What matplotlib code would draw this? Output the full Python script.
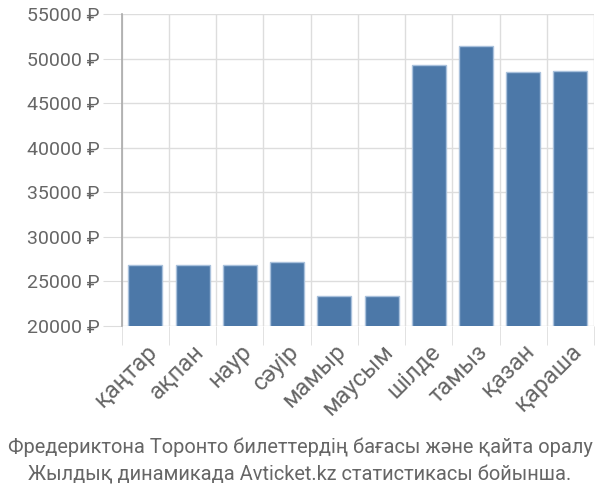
import numpy as np
import matplotlib
matplotlib.use("Agg")
import matplotlib.pyplot as plt
from matplotlib.ticker import FixedLocator

plt.rcParams['font.family'] = ['Roboto', 'DejaVu Sans']

months = ["қаңтар", "ақпан", "наур", "сәуір", "мамыр", "маусым",
          "шілде", "тамыз", "қазан", "қараша"]
prices = [26800, 26800, 26800, 27150, 23400, 23400,
          49250, 51400, 48450, 48550]
yticks = [20000, 25000, 30000, 35000, 40000, 45000, 50000, 55000]
caption_lines = ["Фредериктона Торонто билеттердің бағасы және қайта оралу",
                 "Жылдық динамикада Avticket.kz статистикасы бойынша."]

fig = plt.figure(figsize=(6, 5), dpi=100)
ax = fig.add_axes([0.203, 0.348, 0.787, 0.624])

x = np.arange(len(months))
ax.bar(x, prices, width=0.72, color="#4c78a8",
       edgecolor="#a9c1dc", linewidth=1, zorder=3)

ax.set_xlim(-0.5, len(months) - 0.5)
ax.set_ylim(20000, 55000)

# y grid + labels
ax.set_yticks(yticks)
ax.set_yticklabels([f"{v} ₽" for v in yticks])
ax.yaxis.grid(True, color="#dddddd", linewidth=1, zorder=0)
ax.tick_params(axis="y", length=14, color="#dddddd", labelsize=14,
               labelcolor="#666666", pad=2)

# x: labels at centers, grid/ticks at boundaries
ax.set_xticks(x)
ax.set_xticklabels(months, rotation=45, ha="right", va="top",
                   rotation_mode="anchor")
ax.xaxis.set_minor_locator(FixedLocator(np.arange(len(months) + 1) - 0.5))
ax.xaxis.grid(True, which="minor", color="#dddddd", linewidth=1, zorder=0)
ax.tick_params(axis="x", which="major", length=0, labelsize=17,
               labelcolor="#666666", pad=10)
ax.tick_params(axis="x", which="minor", length=14, color="#dddddd")

for s in ["top", "right", "bottom"]:
    ax.spines[s].set_visible(False)
ax.spines["left"].set_color("#aaaaaa")
ax.spines["left"].set_linewidth(1.2)

for i, line in enumerate(caption_lines):
    fig.text(0.5, 1 - (447 + 28 * i) / 500, line, ha="center", va="center",
             fontsize=14.4, color="#666666")

fig.savefig("out.png", dpi=100)
